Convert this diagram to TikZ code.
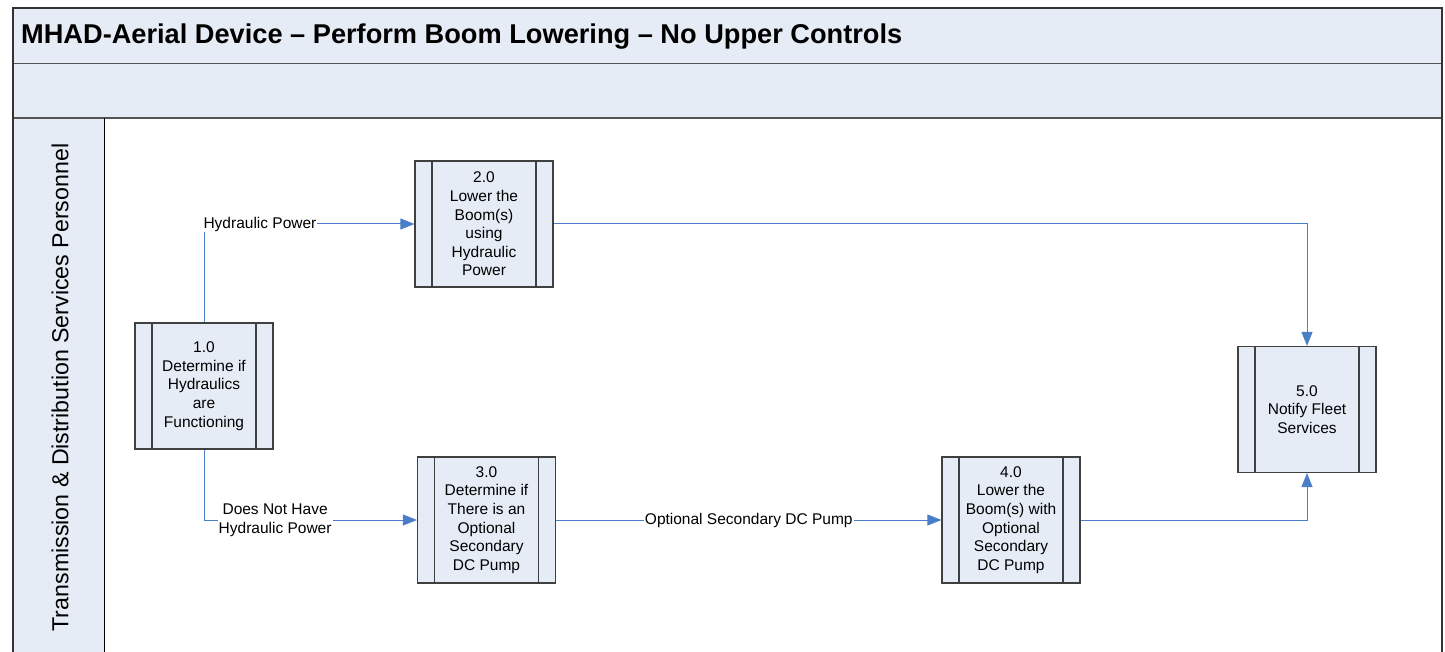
\documentclass[tikz,border=0pt]{standalone}
\usepackage{fontspec}
\setmainfont{Liberation Sans}
\usetikzlibrary{arrows.meta}

\definecolor{bandfill}{HTML}{E6ECF6}
\definecolor{framegray}{HTML}{333333}
\definecolor{rulegray}{HTML}{555555}
\definecolor{boxedge}{HTML}{404040}
\definecolor{flowblue}{HTML}{4A7EC8}

\tikzset{
  proc/.style={
    draw=boxedge, line width=1.2pt, fill=bandfill,
    minimum width=138pt, minimum height=126pt, inner sep=0pt,
    align=center,
    font=\fontsize{15.5}{18.6}\selectfont,
    path picture={
      \draw[boxedge, line width=1.2pt]
        ([xshift=17pt]path picture bounding box.north west) --
        ([xshift=17pt]path picture bounding box.south west)
        ([xshift=-17pt]path picture bounding box.north east) --
        ([xshift=-17pt]path picture bounding box.south east);
    }
  },
  flow/.style={draw=flowblue, line width=1pt,
    -{Triangle[length=14pt,width=11pt,fill=flowblue]}},
  flowtag/.style={fill=white, inner sep=1pt, align=center,
    font=\fontsize{15.5}{18.6}\selectfont}
}

\begin{document}
\begin{tikzpicture}[x=1pt,y=-1pt]
\useasboundingbox (0,0) rectangle (1445,652);
\begin{scope}
\clip (0,0) rectangle (1445,652);

% pool frame, title band, blank band and lane header
\fill[bandfill] (13,8) rectangle (1442,118);
\fill[bandfill] (13,118) rectangle (104,670);
\draw[rulegray, line width=1.6pt] (13,63.5) -- (1442,63.5);
\draw[rulegray, line width=1.6pt] (13,118) -- (1442,118);
\draw[black, line width=1pt] (104,118) -- (104,670);
\draw[framegray, line width=1.6pt] (13,8) rectangle (1442,670);

\node[anchor=west, inner sep=0pt,
      font=\fontsize{27.2}{31}\selectfont\bfseries] (title) at (21,37)
  {MHAD-Aerial Device – Perform Boom Lowering – No Upper Controls};

\node[rotate=90, inner sep=0pt, font=\fontsize{23.2}{27}\selectfont] (lane)
  at (60,387.5) {Transmission \& Distribution Services Personnel};

% process steps
\node[proc] (n1) at (204,386)
  {1.0\\Determine if\\Hydraulics\\are\\Functioning};
\node[proc] (n2) at (484,224)
  {2.0\\Lower the\\Boom(s)\\using\\Hydraulic\\Power};
\node[proc] (n3) at (486.5,520)
  {3.0\\Determine if\\There is an\\Optional\\Secondary\\DC Pump};
\node[proc] (n4) at (1011,520)
  {4.0\\Lower the\\Boom(s) with\\Optional\\Secondary\\DC Pump};
\node[proc] (n5) at (1307,409.5)
  {5.0\\Notify Fleet\\Services};

% flows
\draw[flow] (n1.north) |- (n2.west)
  node[flowtag, pos=0.633] {Hydraulic Power};
\draw[flow] (n1.south) |- (n3.west)
  node[flowtag, pos=0.667] {Does Not Have\\Hydraulic Power};
\draw[flow] (n3.east) -- (n4.west)
  node[flowtag, pos=0.5] {Optional Secondary DC Pump};
\draw[flow] (n2.east) -| (n5.north);
\draw[flow] (n4.east) -| (n5.south);
\end{scope}
\end{tikzpicture}
\end{document}
